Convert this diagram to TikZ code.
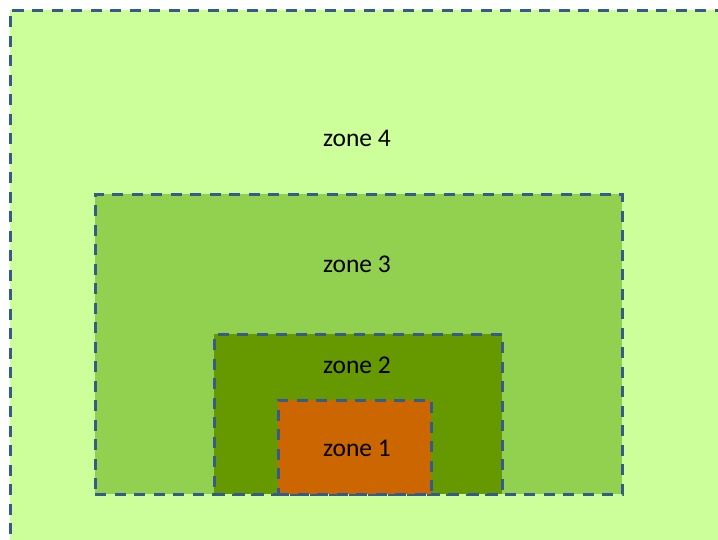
\documentclass[tikz,border=0pt]{standalone}
\usepackage{fontspec}
\setmainfont{Carlito}

\definecolor{zoneborder}{HTML}{375A8C}
\definecolor{zonefour}{HTML}{CCFF99}
\definecolor{zonethree}{HTML}{92D050}
\definecolor{zonetwo}{HTML}{669900}
\definecolor{zoneone}{HTML}{CC6600}

\begin{document}
\begin{tikzpicture}[x=1pt,y=-1pt]
        \tikzset{zone/.style={rectangle, draw=zoneborder, line width=3pt, dash pattern=on 11pt off 8.5pt, anchor=north west, inner sep=0pt, outer sep=0pt}}
        \tikzset{zonelabel/.style={font=\fontsize{25.5}{30}\selectfont, inner sep=0pt}}
        \useasboundingbox (0,0) rectangle (718,539);
        \clip (0,0) rectangle (718,539);
        \node[zone, fill=zonefour, minimum width=760pt, minimum height=580pt] (z4) at (10,10) {};
        \node[zone, fill=zonethree, minimum width=527pt, minimum height=300pt] (z3) at (95,194) {};
        \node[zone, fill=zonetwo, minimum width=288pt, minimum height=160pt] (z2) at (214,334) {};
        \node[zone, fill=zoneone, minimum width=153pt, minimum height=94pt] (z1) at (278,400) {};
        \node[zonelabel] (l4) at (357,138) {zone 4};
        \node[zonelabel] (l3) at (357,264) {zone 3};
        \node[zonelabel] (l2) at (357,365) {zone 2};
        \node[zonelabel] (l1) at (357,448) {zone 1};
    \end{tikzpicture}
\end{document}
